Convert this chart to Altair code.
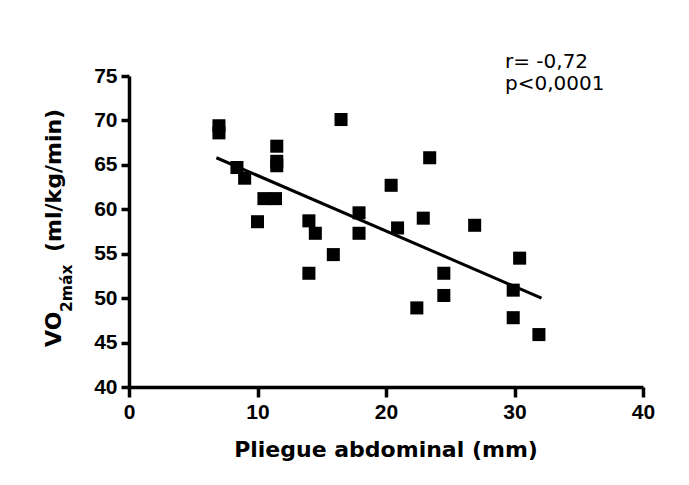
import altair as alt
import pandas as pd

# Data
pliegue = [7.0, 7.0, 8.4, 9.0, 10.0, 10.5, 11.4, 11.5, 11.5, 11.5, 14.0, 14.5, 14.0, 15.9,
           16.5, 17.9, 17.9, 20.4, 20.9, 22.9, 23.4, 22.4, 24.5, 24.5, 26.9, 30.4, 29.9,
           29.9, 31.9]
vo2max = [69.4, 68.6, 64.7, 63.5, 58.6, 61.2, 61.2, 67.1, 65.4, 64.9, 58.7, 57.3, 52.8, 54.9,
          70.1, 59.6, 57.3, 62.7, 57.9, 59.0, 65.8, 48.9, 52.8, 50.3, 58.2, 54.5, 50.9,
          47.8, 45.9]
reg_x = [6.8, 32.1]
reg_y = [65.8, 50.0]
x_ticks = [0, 10, 20, 30, 40]
y_ticks = [40, 45, 50, 55, 60, 65, 70, 75]

pts = pd.DataFrame({"x": pliegue, "y": vo2max})
reg = pd.DataFrame({"x": reg_x, "y": reg_y})
one = pd.DataFrame({"k": [0]})

LABEL_FONT = "Liberation Sans"
TITLE_FONT = "DejaVu Sans"

xscale = alt.Scale(domain=[0, 40], nice=False, zero=False)
yscale = alt.Scale(domain=[40, 75], nice=False, zero=False)

axis_common = dict(
    grid=False, domainColor="black", domainWidth=3.5, tickColor="black", tickWidth=3.5,
    labelFont=LABEL_FONT, labelFontWeight="bold", labelFontSize=21, labelColor="black",
    labelFlush=False, labelOverlap=False, title="",
)
xaxis = alt.Axis(values=x_ticks, tickSize=10, labelPadding=4, **axis_common)
yaxis = alt.Axis(values=y_ticks, tickSize=8, labelPadding=4, **axis_common)

points = alt.Chart(pts).mark_square(size=170, color="black", opacity=1, filled=True).encode(
    x=alt.X("x:Q", scale=xscale, axis=xaxis),
    y=alt.Y("y:Q", scale=yscale, axis=yaxis),
)

line = alt.Chart(reg).mark_line(color="black", strokeWidth=3).encode(
    x=alt.X("x:Q", scale=xscale),
    y=alt.Y("y:Q", scale=yscale),
)

stats = alt.Chart(one).mark_text(
    text="r= -0,72\np<0,0001", lineBreak="\n", lineHeight=22, font=TITLE_FONT,
    fontSize=20, align="left", baseline="alphabetic", color="black",
).encode(x=alt.value(376), y=alt.value(-8))

xtitle = alt.Chart(one).mark_text(
    text="Pliegue abdominal (mm)", font=TITLE_FONT, fontSize=22, fontWeight="bold",
    align="center", baseline="alphabetic", color="black",
).encode(x=alt.value(257), y=alt.value(381))

yt_vo = alt.Chart(one).mark_text(
    text="VO", font=TITLE_FONT, fontSize=22, fontWeight="bold", angle=270,
    align="left", baseline="alphabetic", color="black",
).encode(x=alt.value(-68), y=alt.value(271))

yt_sub = alt.Chart(one).mark_text(
    text="2máx", font=TITLE_FONT, fontSize=15.5, fontWeight="bold", angle=270,
    align="left", baseline="alphabetic", color="black",
).encode(x=alt.value(-57), y=alt.value(236))

yt_unit = alt.Chart(one).mark_text(
    text="(ml/kg/min)", font=TITLE_FONT, fontSize=22, fontWeight="bold", angle=270,
    align="left", baseline="alphabetic", color="black",
).encode(x=alt.value(-68), y=alt.value(176))

chart = alt.layer(points, line, stats, xtitle, yt_vo, yt_sub, yt_unit).properties(
    width=514, height=311,
    autosize=alt.AutoSizeParams(type="none"),
    padding={"left": 121, "top": 68, "right": 38, "bottom": 86},
    background="white",
).configure_view(strokeWidth=0)

chart.save("out.html", embed_options={"renderer": "svg", "actions": False})
